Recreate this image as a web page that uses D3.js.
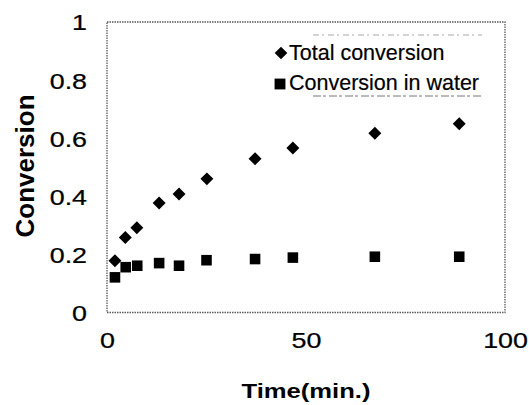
<!DOCTYPE html>
<html>
<head>
<meta charset="utf-8">
<script src="https://cdn.jsdelivr.net/npm/d3@7"></script>
<style>
  body { margin: 0; background: #fff; }
  svg { display: block; font-family: Arial, "Liberation Sans", sans-serif; }
</style>
</head>
<body>
<div id="chart"></div>
<script>
// time in minutes
var timeTotal = [2, 4.6, 7.5, 13.1, 18.1, 25.1, 37.2, 46.7, 67.3, 88.5];
var totalConversion = [0.178, 0.258, 0.292, 0.377, 0.408, 0.460, 0.529, 0.566, 0.617, 0.650];
var timeWater = [2, 4.7, 7.6, 13.1, 18.1, 25.0, 37.2, 46.7, 67.3, 88.5];
var waterConversion = [0.121, 0.156, 0.161, 0.170, 0.161, 0.180, 0.184, 0.189, 0.192, 0.192];
var xTicks = [0, 50, 100];
var yTicks = [0, 0.2, 0.4, 0.6, 0.8, 1];
var legendLabels = ['Total conversion', 'Conversion in water'];

var width = 529, height = 405;
var margin = {left: 107, right: 24, top: 22, bottom: 92.5};
var stretch = 1.22; // the scanned figure is stretched sideways

var svg = d3.select('#chart').append('svg')
  .attr('width', width)
  .attr('height', height);

var x = d3.scaleLinear().domain([0, 100]).range([margin.left, width - margin.right]);
var y = d3.scaleLinear().domain([0, 1]).range([height - margin.bottom, margin.top]);

// plot frame, dotted like the scan
svg.append('rect')
  .attr('x', x(0))
  .attr('y', y(1))
  .attr('width', x(100) - x(0))
  .attr('height', y(0) - y(1))
  .attr('fill', 'none')
  .attr('stroke', '#5a5a5a')
  .attr('stroke-width', 1.3)
  .attr('stroke-dasharray', '1.5,1');

var yAxis = svg.append('g')
  .attr('transform', 'translate(' + x(0) + ',0)')
  .call(d3.axisLeft(y).tickValues(yTicks).tickSize(0).tickFormat(d3.format('')));
yAxis.select('.domain').remove();
yAxis.selectAll('text')
  .attr('x', -20 / stretch)
  .attr('dy', '0.36em')
  .attr('transform', 'scale(' + stretch + ',1)')
  .style('font-size', '22px')
  .style('font-family', 'Arial, "Liberation Sans", sans-serif')
  .attr('fill', '#000')
  .attr('stroke', '#000')
  .attr('stroke-width', 0.25);

var xAxis = svg.append('g')
  .attr('transform', 'translate(0,' + y(0) + ')')
  .call(d3.axisBottom(x).tickValues(xTicks).tickSize(0).tickFormat(d3.format('')));
xAxis.select('.domain').remove();
xAxis.selectAll('text')
  .attr('x', 0)
  .attr('y', 35.5)
  .attr('dy', 0)
  .attr('transform', 'scale(' + stretch + ',1)')
  .style('font-size', '22px')
  .style('font-family', 'Arial, "Liberation Sans", sans-serif')
  .attr('fill', '#000')
  .attr('stroke', '#000')
  .attr('stroke-width', 0.25);

// axis titles
svg.append('text')
  .attr('transform', 'translate(306,398) scale(1.22,1)')
  .attr('text-anchor', 'middle')
  .style('font-size', '21px')
  .style('font-weight', 'bold')
  .attr('fill', '#000')
  .text('Time(min.)');

svg.append('text')
  .attr('transform', 'translate(34,166) rotate(-90)')
  .attr('text-anchor', 'middle')
  .style('font-size', '26px')
  .style('font-weight', 'bold')
  .attr('fill', '#000')
  .text('Conversion');

var diamond = d3.symbol().type(d3.symbolSquare).size(84);
var square = d3.symbol().type(d3.symbolSquare).size(112);

svg.append('g').selectAll('path')
  .data(d3.zip(timeWater, waterConversion))
  .enter()
  .append('path')
  .attr('d', square)
  .attr('transform', function(d){ return 'translate(' + x(d[0]) + ',' + y(d[1]) + ')'; })
  .attr('fill', '#000');

svg.append('g').selectAll('path')
  .data(d3.zip(timeTotal, totalConversion))
  .enter()
  .append('path')
  .attr('d', diamond)
  .attr('transform', function(d){ return 'translate(' + x(d[0]) + ',' + y(d[1]) + ') rotate(45)'; })
  .attr('fill', '#000');

// legend
var legend = svg.append('g');
legend.append('line')
  .attr('x1', 313).attr('x2', 482).attr('y1', 35).attr('y2', 35)
  .attr('stroke', '#aaa').attr('stroke-width', 1).attr('stroke-dasharray', '6,3,2,4');
legend.append('line')
  .attr('x1', 313).attr('x2', 482).attr('y1', 96).attr('y2', 96)
  .attr('stroke', '#777').attr('stroke-width', 1).attr('stroke-dasharray', '8,2,3,3');

legend.append('path')
  .attr('d', d3.symbol().type(d3.symbolSquare).size(80))
  .attr('transform', 'translate(281,53) rotate(45)')
  .attr('fill', '#000');
legend.append('path')
  .attr('d', d3.symbol().type(d3.symbolSquare).size(118))
  .attr('transform', 'translate(280,84)')
  .attr('fill', '#000');

legend.selectAll('text.lab')
  .data(legendLabels)
  .enter()
  .append('text')
  .attr('class', 'lab')
  .attr('x', 289)
  .attr('y', function(d, i){ return 60 + i * 30; })
  .style('font-size', '21.5px')
  .attr('fill', '#000')
  .attr('stroke', '#000')
  .attr('stroke-width', 0.2)
  .text(function(d){ return d; });
</script>
</body>
</html>
